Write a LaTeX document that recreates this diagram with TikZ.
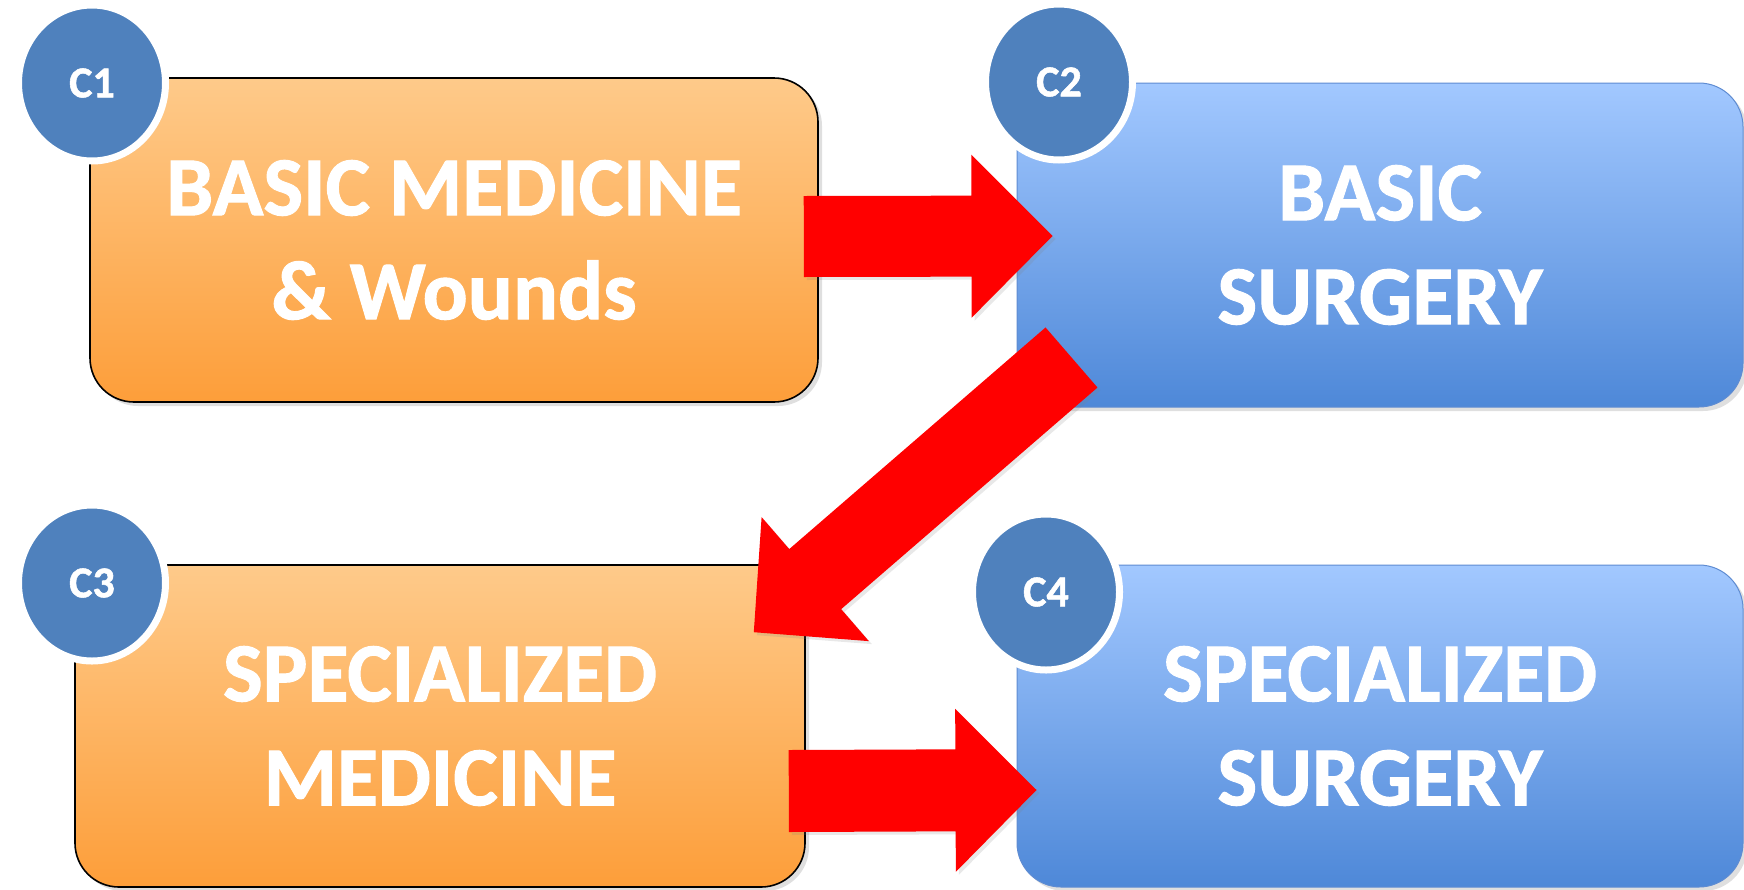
\documentclass[tikz,border=0pt]{standalone}
\usepackage{fontspec}
\setmainfont{Carlito}[Numbers=Lining, BoldFeatures={FakeBold=1.2}]
\usetikzlibrary{calc,shadows,shapes.geometric}
\definecolor{circblue}{RGB}{79,129,189}
\definecolor{orangetop}{RGB}{254,202,138}
\definecolor{orangebot}{RGB}{253,158,58}
\definecolor{bluetop}{RGB}{162,200,255}
\definecolor{bluebot}{RGB}{78,136,216}
\definecolor{blueedge}{RGB}{95,140,210}
\definecolor{arrowred}{RGB}{255,0,0}
\newcommand{\myblockarrow}[5]{% tail, tip, shaft half width, head half width, head length
  \coordinate (hb) at ($(#2)!#5!(#1)$);
  \fill[arrowred, drop shadow={opacity=0.18, shadow xshift=1.5pt, shadow yshift=-1.5pt}]
    ($(#1)!#3!90:(#2)$) -- ($(hb)!#3!90:(#2)$) -- ($(hb)!#4!90:(#2)$) -- (#2)
    -- ($(hb)!#4!-90:(#2)$) -- ($(hb)!#3!-90:(#2)$) -- ($(#1)!#3!-90:(#2)$) -- cycle;
}
\tikzset{
  boxbase/.style={rounded corners=22pt, align=center, text=white,
    font=\bfseries\fontsize{42}{52}\selectfont, inner sep=0pt,
    drop shadow={opacity=0.25, shadow xshift=2pt, shadow yshift=-2pt}},
  obox/.style={boxbase, draw=black, line width=0.8pt,
    top color=orangetop, bottom color=orangebot},
  bbox/.style={boxbase, draw=blueedge, line width=0.5pt,
    top color=bluetop, bottom color=bluebot},
  circ/.style={ellipse, fill=circblue, draw=white, line width=3.5pt,
    minimum width=73.5pt, minimum height=78pt, inner sep=0pt, text=white,
    font=\bfseries\fontsize{22}{26}\selectfont,
    drop shadow={opacity=0.22, shadow xshift=1.2pt, shadow yshift=-1.2pt}},
}
\begin{document}
\begin{tikzpicture}[x=0.5pt, y=-0.5pt]
\useasboundingbox (0,0) rectangle (1744,889);
\fill[white] (0,0) rectangle (1744,889);
% boxes
\node[obox, minimum width=364pt, minimum height=162pt] (b1) at (454,240) {BASIC MEDICINE\\\& Wounds};
\node[bbox, minimum width=363pt, minimum height=162pt] (b2) at (1380,245) {BASIC\\SURGERY};
\node[obox, minimum width=365pt, minimum height=161pt] (b3) at (440,726) {SPECIALIZED\\MEDICINE};
\node[bbox, minimum width=363pt, minimum height=161pt] (b4) at (1380,726) {SPECIALIZED\\SURGERY};
% circles
\node[circ] (c1) at (92,83) {C1};
\node[circ] (c2) at (1059,82) {C2};
\node[circ] (c3) at (92,583) {C3};
\node[circ] (c4) at (1046,592) {C4};
% arrow end points
\coordinate (a1s) at ($(b1.east)+(-15,-3.5)$);
\coordinate (a1e) at ($(b2.west)+(36,-9)$);
\coordinate (a2s) at ($(b2.south west)+(55,-50)$);
\coordinate (a2e) at ($(b3.north east)+(-52,68)$);
\coordinate (a3s) at ($(b3.east)+(-17,65)$);
\coordinate (a3e) at ($(b4.west)+(20,64)$);
% arrows
\myblockarrow{a1s}{a1e}{20.25pt}{40.75pt}{40.5pt}
\myblockarrow{a2s}{a2e}{19.85pt}{41pt}{40.6pt}
\myblockarrow{a3s}{a3e}{20.5pt}{40.75pt}{40.5pt}
\end{tikzpicture}
\end{document}
